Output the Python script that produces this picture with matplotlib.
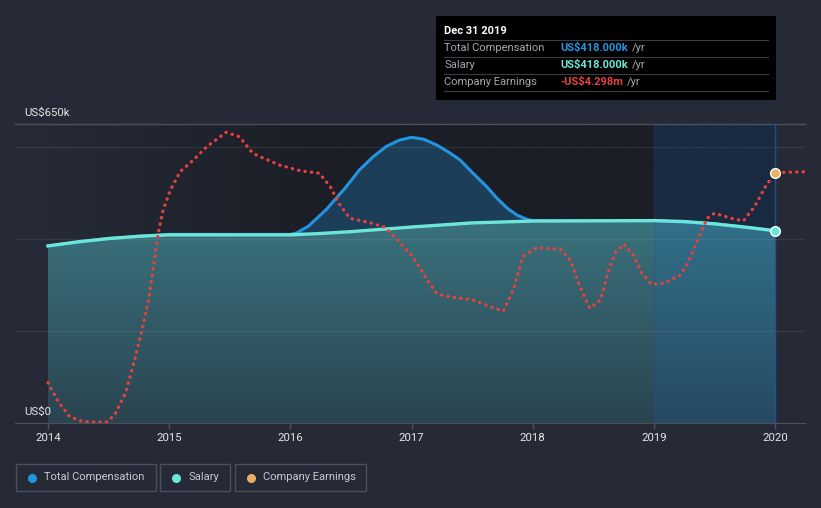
import numpy as np
import matplotlib
matplotlib.use('Agg')
import matplotlib.pyplot as plt
from matplotlib.colors import LinearSegmentedColormap
from matplotlib.patches import Rectangle
import matplotlib.transforms as mtransforms

plt.rcParams['font.family'] = ['Roboto', 'DejaVu Sans']

# ---- data ----
years = [2014, 2015, 2016, 2017, 2018, 2019, 2020]

# salary, US$ thousands
sal_x = [2014.0, 2014.25, 2014.5, 2014.75, 2015.0, 2016.0, 2016.25, 2016.5,
         2017.0, 2017.5, 2018.0, 2019.0, 2019.25, 2019.5, 2019.75, 2020.0]
sal_y = [385, 394, 401, 406, 409, 409, 412, 416,
         426, 435, 439, 440, 438, 433, 426, 418]

# total compensation, US$ thousands
tot_x = [2014.0, 2014.5, 2015.0, 2016.0, 2016.05, 2016.15, 2016.3, 2016.45,
         2016.57, 2016.68, 2016.79, 2016.9, 2017.0, 2017.1, 2017.21, 2017.3,
         2017.4, 2017.5, 2017.62, 2017.7, 2017.79, 2017.87, 2017.95, 2018.0,
         2019.0, 2019.5, 2020.0]
tot_y = [385, 401, 410, 410, 413, 428, 465, 510,
         550, 578, 601, 615, 621, 617, 604, 590,
         572, 545, 514, 490, 467, 452, 443, 440,
         440, 433, 418]

# company earnings, US$ millions (own scale)
earn_x = [2014.0, 2014.085, 2014.18, 2014.29, 2014.48, 2014.55, 2014.64, 2014.70,
          2014.77, 2014.83, 2014.87, 2014.91, 2014.95, 2015.01, 2015.09, 2015.20,
          2015.31, 2015.47, 2015.58, 2015.69, 2015.75, 2015.91, 2016.08, 2016.24,
          2016.33, 2016.40, 2016.49, 2016.66, 2016.78, 2016.91, 2017.01, 2017.13,
          2017.21, 2017.34, 2017.51, 2017.68, 2017.76, 2017.84, 2017.92, 2018.03,
          2018.23, 2018.31, 2018.39, 2018.47, 2018.56, 2018.62, 2018.68, 2018.75,
          2018.83, 2018.90, 2018.98, 2019.08, 2019.22, 2019.28, 2019.35, 2019.44,
          2019.50, 2019.66, 2019.74, 2019.83, 2019.92, 2020.0, 2020.25]
earn_y = [-12.70, -13.46, -14.06, -14.26, -14.28, -13.99, -13.11, -12.06,
          -10.71, -9.39, -8.06, -6.71, -5.79, -4.99, -4.26, -3.79,
          -3.26, -2.68, -2.86, -3.52, -3.66, -3.99, -4.22, -4.32,
          -4.86, -5.52, -6.12, -6.30, -6.48, -7.12, -7.66, -8.59,
          -9.15, -9.28, -9.39, -9.72, -9.82, -8.99, -7.66, -7.30,
          -7.36, -7.79, -8.86, -9.72, -9.39, -8.32, -7.52, -7.15,
          -7.59, -8.32, -8.76, -8.72, -8.39, -7.92, -7.12, -6.12,
          -5.92, -6.15, -6.22, -5.66, -4.86, -4.298, -4.26]

gridlines = [200, 400, 600]
y_top = 650

tip_title = 'Dec 31 2019'
tip_rows = [('Total Compensation', 'US$418.000k', '#2394df'),
            ('Salary', 'US$418.000k', '#6ee6d7'),
            ('Company Earnings', '-US$4.298m', '#e84142')]
legend_items = [('Total Compensation', '#2394df'),
                ('Salary', '#6ee6d7'),
                ('Company Earnings', '#e8b060')]

BG = '#252a36'
W, H = 821, 508

fig = plt.figure(figsize=(W / 100, H / 100), dpi=100)
fig.patch.set_facecolor(BG)
ax = fig.add_axes([15 / W, 85 / H, 790 / W, 299 / H])
ax.set_facecolor(BG)
ax.set_xlim(2013.7277, 2020.2475)
ax.set_ylim(0, y_top)

# darker backdrop fading in from the left
bgmap = LinearSegmentedColormap.from_list('bg', [BG, '#1b1e26'])
ramp = np.clip((np.linspace(2014, 2020, 1200) - 2014) / 2.3, 0, 1).reshape(1, -1)
ax.imshow(ramp, extent=[2014, 2020, 0, y_top], aspect='auto', cmap=bgmap,
          vmin=0, vmax=1, zorder=0.5, interpolation='bilinear')

# total compensation area + line
ax.fill_between(tot_x, 0, tot_y, color='#2394df', alpha=0.28, lw=0, zorder=1)
ax.plot(tot_x, tot_y, color='#2394df', lw=2.2, zorder=4, solid_joinstyle='round')

# salary area with vertical gradient
poly = ax.fill_between(sal_x, 0, sal_y, color='none', lw=0)
tealmap = LinearSegmentedColormap.from_list('teal', ['#2a4450', '#3a737e'])
grad = np.linspace(0, 1, 256).reshape(-1, 1)
im = ax.imshow(grad, extent=[2014, 2020, 0, 450], aspect='auto', cmap=tealmap,
               origin='lower', zorder=2)
im.set_clip_path(poly.get_paths()[0], transform=ax.transData)
ax.plot(sal_x, sal_y, color='#6ee6d7', lw=2.4, zorder=5)

# grid
for g in gridlines:
    ax.axhline(g, color='white', alpha=0.07, lw=1, zorder=3)
ax.axhline(y_top, color='#4b505b', lw=1, zorder=3, clip_on=False)

# highlighted period
ax.axvspan(2019, 2020, color='#1565c0', alpha=0.18, lw=0, zorder=3.5)
ax.axvline(2020, color='#2a5a9a', lw=1, alpha=0.8, zorder=3.5)
ax.axvline(2019, color='#2a4a7a', lw=0.8, alpha=0.3, zorder=3.5)

ax.plot(sal_x[-1], sal_y[-1], 'o', ms=7, mfc='#6ee6d7', mec='white', mew=1, zorder=7)

# earnings on own scale
ax2 = ax.twinx()
ax2.set_ylim(-14.31, -2.35)
ax2.set_xlim(ax.get_xlim())
ax2.axis('off')
ax2.plot(earn_x, earn_y, color='#e5413f', lw=2.4, linestyle=(0, (0.1, 1.85)),
         dash_capstyle='round', zorder=6)
i20 = earn_x.index(2020.0)
ax2.plot(earn_x[i20], earn_y[i20], 'o', ms=7, mfc='#e8b060', mec='white', mew=1, zorder=7)

# axes styling
for s in ['top', 'left', 'right']:
    ax.spines[s].set_visible(False)
ax.spines['bottom'].set_color('#4b505b')
ax.set_yticks([])
ax.set_xticks(years)
ax.set_xticklabels([str(y) for y in years])
ax.tick_params(axis='x', colors='#4b505b', labelcolor='#e6e6e6', length=4,
               width=1, pad=3.5, labelsize=8.2)

ylab = mtransforms.blended_transform_factory(ax.transAxes, ax.transData)
ax.annotate('US$650k', xy=(0.0114, y_top), xycoords=ylab, xytext=(0, 4.5),
            textcoords='offset points', va='bottom', ha='left', color='#e6e6e6', fontsize=8.2)
ax.annotate('US$0', xy=(0.0114, 0), xycoords=ylab, xytext=(0, 4.5),
            textcoords='offset points', va='bottom', ha='left', color='#e6e6e6', fontsize=8.2)

# ---- tooltip ----
def fx(x):
    return x / W

def fy(y):
    return 1 - y / H

fig.patches.append(Rectangle((fx(436), fy(100)), fx(776) - fx(436), fy(16) - fy(100),
                             transform=fig.transFigure, facecolor='black', edgecolor='none'))
fig.text(fx(444), fy(31), tip_title, color='white', fontsize=8, fontweight='bold', va='center')
sep_y = [40.3, 57.3, 74.3, 91]
row_y = [47.7, 64.7, 82]
for yy in sep_y:
    fig.lines.append(plt.Line2D([fx(444), fx(768)], [fy(yy), fy(yy)], transform=fig.transFigure,
                                color='#3a3d44', lw=0.8))
renderer = fig.canvas.get_renderer()
for (name, val, col), yy in zip(tip_rows, row_y):
    fig.text(fx(444), fy(yy), name, color='#a5a8ad', fontsize=8, va='center')
    t = fig.text(fx(560), fy(yy), val, color=col, fontsize=8, fontweight='bold', va='center')
    x_end = t.get_window_extent(renderer).x1
    fig.text(fx(x_end + 4), fy(yy), '/yr', color='#a5a8ad', fontsize=8, va='center')

# ---- legend ----
boxes = [(16.3, 155.7), (160.3, 230.3), (235.3, 366.3)]
for (name, col), (x0, x1) in zip(legend_items, boxes):
    fig.patches.append(Rectangle((fx(x0), fy(491)), fx(x1) - fx(x0), fy(464.3) - fy(491),
                                 transform=fig.transFigure, facecolor='none',
                                 edgecolor='#4a505b', lw=1))
    fig.lines.append(plt.Line2D([fx(x0 + 15.7)], [fy(477.5)], transform=fig.transFigure,
                                marker='o', ms=6.5, color=col, mec='none', ls='none'))
    fig.text(fx(x0 + 28), fy(477.5), name, color='#c8cacf', fontsize=8, va='center')

fig.savefig('out.png', dpi=100, facecolor=BG)
